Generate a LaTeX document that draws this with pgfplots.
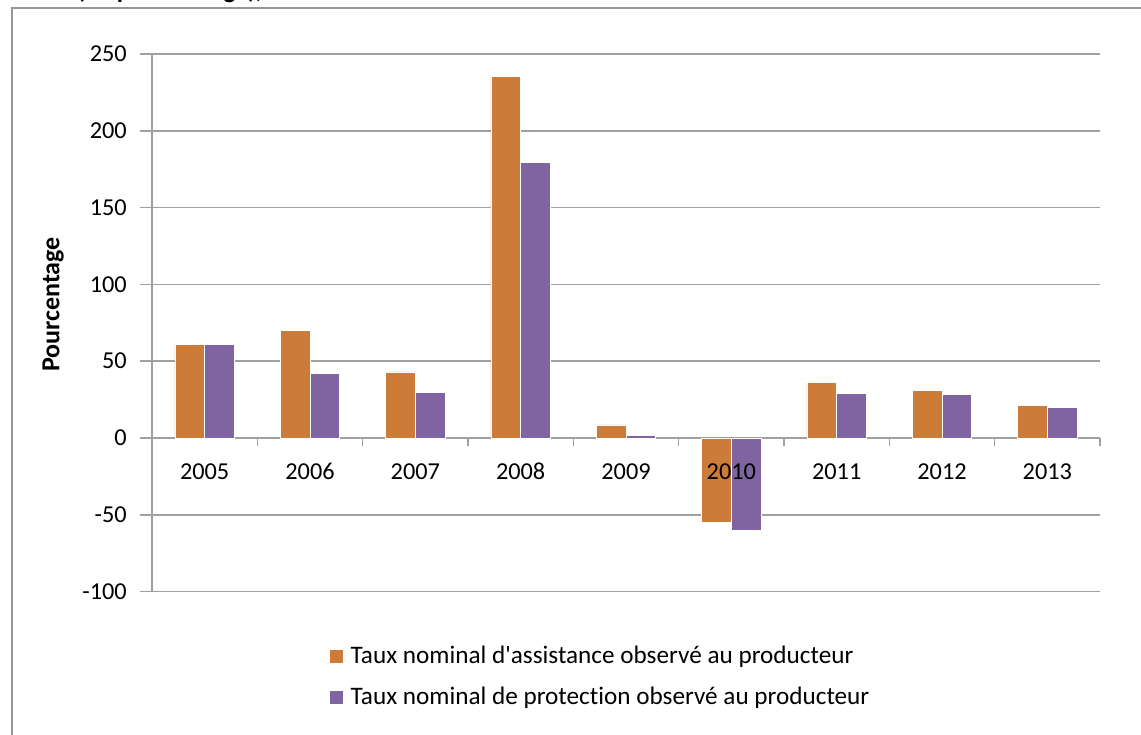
\documentclass[border=0pt]{standalone}
\usepackage{fontspec}
\setmainfont{Carlito}[Ligatures={TeX,NoCommon}]
\usepackage{pgfplots}
\pgfplotsset{compat=1.18}
\definecolor{barorange}{RGB}{204,123,56}
\definecolor{barpurple}{RGB}{128,100,162}
\definecolor{gridgray}{RGB}{160,160,160}
\definecolor{framegray}{RGB}{150,150,150}
\newcommand\tickfont{\fontsize{24.3}{29}\selectfont}
\newcommand\chartfont{\fontsize{25.2}{30}\selectfont}

% tick labels drawn above the bars, grid and axis lines below them
\pgfplotsset{
  layers/labels over bars/.define layer set={
    axis background,axis grid,axis ticks,axis lines,pre main,main,
    axis tick labels,axis descriptions,axis foreground
  }{
    grid style={/pgfplots/on layer=axis grid},
    tick style={/pgfplots/on layer=axis ticks},
    axis line style={/pgfplots/on layer=axis lines},
    label style={/pgfplots/on layer=axis descriptions},
    legend style={/pgfplots/on layer=axis descriptions},
    title style={/pgfplots/on layer=axis descriptions},
    colorbar style={/pgfplots/on layer=axis descriptions},
    ticklabel style={/pgfplots/on layer=axis tick labels},
    axis background@ style={/pgfplots/on layer=axis background},
    3d box foreground style={/pgfplots/on layer=axis foreground},
  },
}

% Taux nominaux observes au producteur, en pourcentage
\pgfplotstableread{
x  val
0  61
1  70
2  43
3  235.5
4  8.5
5  -55
6  36
7  31
8  21
}\assistance
\pgfplotstableread{
x  val
0  61
1  42
2  29.5
3  179.5
4  1.8
5  -60
6  29
7  28.5
8  20
}\protection

\begin{document}
\begin{tikzpicture}[x=1pt,y=1pt]
% page area
\path (0,0) rectangle (1141,735);
% chart frame: top and left edges
\draw[overlay, framegray, line width=2pt] (12,-5) -- (12,727) -- (1150,727);
% chart title
\node[overlay, anchor=base east, font=\chartfont\bfseries, inner sep=0pt] at (70,736.5) {observés};
\node[overlay, anchor=base west, font=\chartfont\bfseries, inner sep=0pt] at (77,736.5) {(en pourcentage), 2005-2013};

\begin{axis}[
  set layers=labels over bars,
  at={(152pt,143.4pt)}, anchor=south west,
  scale only axis, width=948pt, height=537.6pt,
  xmin=-0.5, xmax=8.5, ymin=-100, ymax=250,
  axis x line*=middle, axis y line*=left,
  axis line style={gridgray, line width=1.5pt},
  ymajorgrids, major grid style={gridgray, line width=1.5pt},
  ytick={-100,-50,...,250},
  xtick={0,...,8},
  xticklabels={2005,2006,2007,2008,2009,2010,2011,2012,2013},
  minor xtick={-0.5,0.5,...,8.5},
  major x tick style={draw=none},
  minor x tick style={gridgray, line width=1.5pt},
  major y tick style={gridgray, line width=1.5pt},
  major tick length=12pt, minor tick length=8pt,
  tick align=outside,
  tick label style={font=\tickfont},
  /pgf/number format/assume math mode=true,
  yticklabel style={anchor=east, inner sep=0pt, xshift=-13pt},
  xticklabel style={anchor=base, inner sep=0pt, yshift=-30pt},
  ylabel={Pourcentage},
  ylabel style={font=\fontsize{26}{31}\selectfont\bfseries, at={(axis description cs:-0.1044,0.534)}, anchor=center},
  ybar=0pt, bar width=29.7pt,
  legend style={at={(axis description cs:0.1868,-0.102)}, anchor=north west,
    draw=none, fill=none, inner sep=0pt, outer sep=0pt,
    row sep=22pt, column sep=7pt,
    nodes={inner sep=0pt, font=\chartfont}},
  legend cell align=left,
  sq legend/.style={legend image code/.code={\fill[##1] (0pt,-7pt) rectangle (14pt,7pt);}},
]
\addplot[fill=barorange, draw=white, line width=0.6pt, sq legend] table[x=x, y=val] {\assistance};
\addlegendentry{Taux nominal d\textquotesingle assistance observé au producteur}
\addplot[fill=barpurple, draw=white, line width=0.6pt, sq legend] table[x=x, y=val] {\protection};
\addlegendentry{Taux nominal de protection observé au producteur}
\end{axis}
\end{tikzpicture}
\end{document}
